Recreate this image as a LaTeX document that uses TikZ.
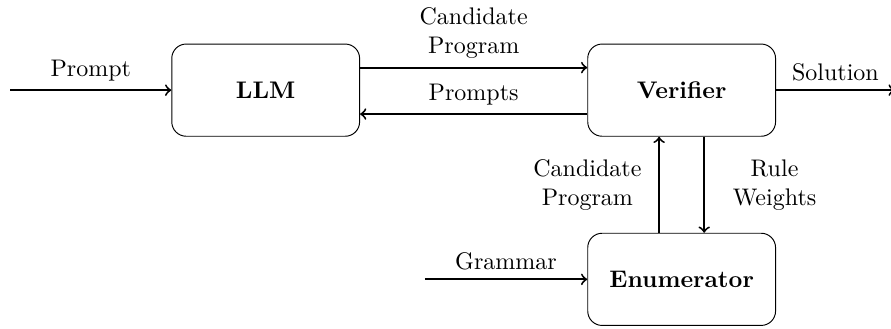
\documentclass[tikz,border=0pt]{standalone}
\usetikzlibrary{positioning}
\tikzset{
  block/.style={draw, rounded corners=6pt, minimum width=2.75cm, minimum height=1.35cm, font=\bfseries},
  flow/.style={->, thick},
  lbl/.style={align=center}
}
\begin{document}
\begin{tikzpicture}
\useasboundingbox (0,0) rectangle (13.045,-4.817);

\node[block] (llm) at (3.89,-1.32) {LLM};
\node[block] (verifier) at (9.98,-1.32) {Verifier};
\node[block] (enum) at (9.98,-4.09) {Enumerator};

\coordinate (prompt) at (0.15,-1.32);
\coordinate (solution) at (13.1,-1.32);
\coordinate (grammar) at (6.22,-4.09);

\draw[flow] (prompt) -- node[above] {Prompt} (llm);
\draw[flow] ([yshift=0.33cm]llm.east) -- node[above,lbl] {Candidate\\Program} ([yshift=0.33cm]verifier.west);
\draw[flow] ([yshift=-0.35cm]verifier.west) -- node[above] {Prompts} ([yshift=-0.35cm]llm.east);
\draw[flow] (verifier) -- node[above] {Solution} (solution);
\draw[flow] ([xshift=-0.33cm]enum.north) -- node[xshift=-1.05cm,lbl] {Candidate\\Program} ([xshift=-0.33cm]verifier.south);
\draw[flow] ([xshift=0.33cm]verifier.south) -- node[xshift=1.03cm,lbl] {Rule\\Weights} ([xshift=0.33cm]enum.north);
\draw[flow] (grammar) -- node[above] {Grammar} (enum);
\end{tikzpicture}
\end{document}
